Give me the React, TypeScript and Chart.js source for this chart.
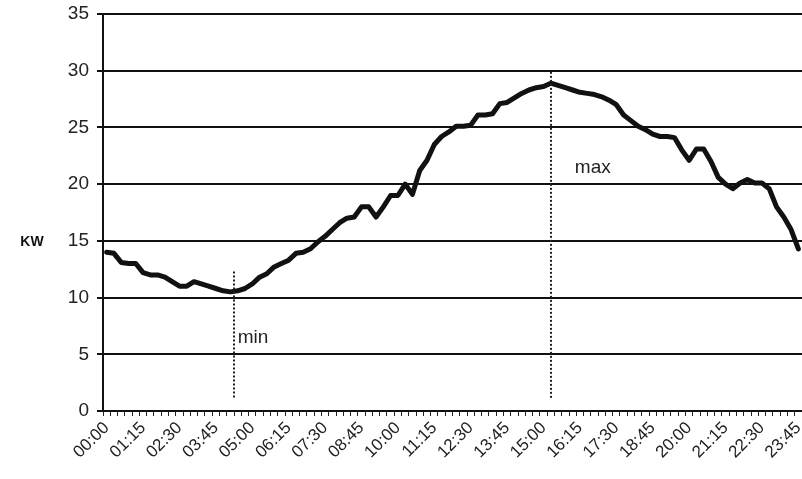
import React, { useEffect, useRef } from "react";
import { Chart, registerables } from "chart.js";

Chart.register(...registerables);

// 15-minute intervals over the day
const timeLabels: string[] = [];
for (let h = 0; h < 24; h++) {
  for (let m = 0; m < 60; m += 15) {
    timeLabels.push(String(h).padStart(2, "0") + ":" + String(m).padStart(2, "0"));
  }
}

const kwValues: number[] = [
  14.0, 13.9, 13.1, 13.0, 13.0, 12.2, 12.0, 12.0, 11.8, 11.4,
  11.0, 11.0, 11.4, 11.2, 11.0, 10.8, 10.6, 10.5, 10.6, 10.8,
  11.2, 11.8, 12.1, 12.7, 13.0, 13.3, 13.9, 14.0, 14.3, 14.9,
  15.4, 16.0, 16.6, 17.0, 17.1, 18.0, 18.0, 17.1, 18.0, 19.0,
  19.0, 20.0, 19.1, 21.2, 22.1, 23.5, 24.2, 24.6, 25.1, 25.1,
  25.2, 26.1, 26.1, 26.2, 27.1, 27.2, 27.6, 28.0, 28.3, 28.5,
  28.6, 28.9, 28.7, 28.5, 28.3, 28.1, 28.0, 27.9, 27.7, 27.4,
  27.0, 26.1, 25.6, 25.1, 24.8, 24.4, 24.2, 24.2, 24.1, 23.0,
  22.1, 23.1, 23.1, 22.0, 20.6, 20.0, 19.6, 20.1, 20.4, 20.1,
  20.1, 19.6, 18.0, 17.1, 16.0, 14.3,
];

const yTickValues = [0, 5, 10, 15, 20, 25, 30, 35];

// marker lines: [category index, from value, to value]
const markerIndex = [17.5, 61];
const markerFrom = [1.1, 1.1];
const markerTo = [12.3, 29.9];
// annotation texts
const noteTexts = ["min", "max"];
const noteIndex = [18, 64.3];
const noteValue = [6.5, 21.4];

const FONT = "Liberation Sans, Arial, Helvetica, sans-serif";

const overlayPlugin = {
  id: "overlay",
  afterDatasetsDraw(chart: any) {
    const ctx = chart.ctx;
    const xs = chart.scales.x;
    const ys = chart.scales.y;
    const px = (v: number) => {
      const a = xs.getPixelForValue(Math.floor(v));
      const b = xs.getPixelForValue(Math.floor(v) + 1);
      return a + (b - a) * (v - Math.floor(v));
    };
    ctx.save();
    ctx.strokeStyle = "#222";
    ctx.lineWidth = 2;
    ctx.setLineDash([2, 2]);
    for (let i = 0; i < markerIndex.length; i++) {
      const x = Math.round(px(markerIndex[i]));
      ctx.beginPath();
      ctx.moveTo(x, ys.getPixelForValue(markerTo[i]));
      ctx.lineTo(x, ys.getPixelForValue(markerFrom[i]));
      ctx.stroke();
    }
    ctx.setLineDash([]);
    ctx.fillStyle = "#222";
    ctx.font = "19px " + FONT;
    ctx.textAlign = "left";
    ctx.textBaseline = "middle";
    for (let i = 0; i < noteTexts.length; i++) {
      ctx.fillText(noteTexts[i], px(noteIndex[i]), ys.getPixelForValue(noteValue[i]));
    }
    ctx.font = "bold 14px " + FONT;
    ctx.textAlign = "center";
    ctx.fillStyle = "#111";
    ctx.fillText("KW", 32, 242);
    ctx.restore();
  },
};

export default function App() {
  const ref = useRef<HTMLCanvasElement | null>(null);
  useEffect(() => {
    if (!ref.current) return;
    const chart = new Chart(ref.current, {
      type: "line",
      data: {
        labels: timeLabels,
        datasets: [
          {
            data: kwValues,
            borderColor: "#111",
            borderWidth: 5,
            pointRadius: 0,
            tension: 0,
            fill: false,
            borderJoinStyle: "round",
            borderCapStyle: "round",
          },
        ],
      },
      options: {
        responsive: false,
        animation: false,
        layout: { padding: { top: 14, right: 0, left: 0, bottom: 0 } },
        plugins: { legend: { display: false }, tooltip: { enabled: false } },
        scales: {
          x: {
            type: "category",
            offset: true,
            afterFit: (s: any) => {
              s.height = 68;
              s.paddingLeft = 0;
              s.paddingRight = 0;
            },
            grid: {
              display: true,
              offset: true,
              drawOnChartArea: false,
              drawTicks: true,
              tickLength: 5,
              color: "#222",
              lineWidth: 1,
            },
            border: { display: true, color: "#111", width: 2 },
            ticks: {
              autoSkip: false,
              minRotation: 45,
              maxRotation: 45,
              padding: 2,
              color: "#222",
              font: { family: FONT, size: 17 },
              callback: (_v: any, i: number) => (i % 5 === 0 ? timeLabels[i] : ""),
            },
          },
          y: {
            min: 0,
            max: 35,
            afterFit: (s: any) => {
              s.width = 103;
              s.paddingTop = 0;
              s.paddingBottom = 0;
            },
            afterBuildTicks: (s: any) => { s.ticks = yTickValues.map((v) => ({ value: v })); },
            grid: {
              color: "#111",
              lineWidth: 2,
              drawTicks: true,
              tickLength: 6,
            },
            border: { display: true, color: "#111", width: 2 },
            ticks: {
              padding: 8,
              color: "#222",
              font: { family: FONT, size: 19 },
            },
          },
        },
      },
      plugins: [overlayPlugin],
    });
    return () => chart.destroy();
  }, []);
  return (
    <div style={{ position: "fixed", left: 0, top: 0, width: 802, height: 479, background: "#fff" }}>
      <canvas ref={ref} width={802} height={479} style={{ display: "block" }} />
    </div>
  );
}
